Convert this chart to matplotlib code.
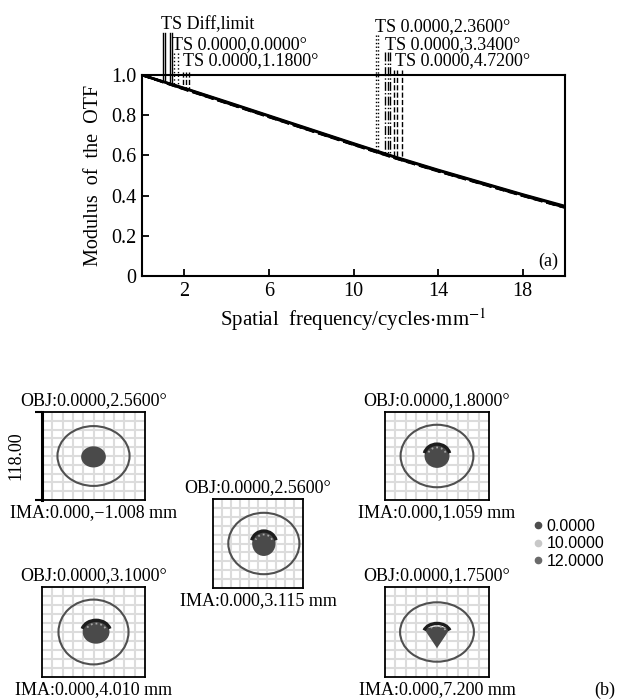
import numpy as np
import matplotlib
matplotlib.use("Agg")
import matplotlib.pyplot as plt
from matplotlib.patches import Ellipse, Arc, Wedge
from matplotlib.lines import Line2D

plt.rcParams['font.family'] = ['Liberation Serif', 'DejaVu Serif']
plt.rcParams['mathtext.fontset'] = 'stix'

# ---------------- data: MTF (a) ----------------
freq = [0, 2, 4, 6, 8, 10, 12, 14, 16, 18, 20]
mtf_diff = [1.0, 0.935, 0.867, 0.798, 0.729, 0.660, 0.592, 0.528, 0.467, 0.406, 0.348]
mtf_f0 = [1.0, 0.933, 0.864, 0.795, 0.726, 0.657, 0.589, 0.525, 0.464, 0.403, 0.344]
mtf_f1 = [1.0, 0.932, 0.863, 0.794, 0.725, 0.656, 0.588, 0.524, 0.463, 0.402, 0.343]
mtf_f2 = [1.0, 0.931, 0.862, 0.793, 0.724, 0.655, 0.587, 0.523, 0.462, 0.401, 0.342]
mtf_f3 = [1.0, 0.930, 0.861, 0.792, 0.723, 0.654, 0.586, 0.522, 0.461, 0.400, 0.341]
mtf_f4 = [1.0, 0.929, 0.860, 0.791, 0.722, 0.653, 0.585, 0.521, 0.460, 0.399, 0.340]
series_labels = ['TS Diff,limit', 'TS 0.0000,0.0000°', 'TS 0.0000,1.1800°',
                 'TS 0.0000,2.3600°', 'TS 0.0000,3.3400°', 'TS 0.0000,4.7200°']
x_ticks = [2, 6, 10, 14, 18]
y_ticks = [0, 0.2, 0.4, 0.6, 0.8, 1.0]
y_ticklabels = ['0', '0.2', '0.4', '0.6', '0.8', '1.0']

# legend marker lines (frequency positions) per entry
leg_marks = [[1.0, 1.1], [1.33, 1.43], [1.52, 1.71], [1.95, 2.1, 2.24],
             [11.05, 11.14], [11.5, 11.62, 11.72], [11.9, 12.05, 12.28]]
leg_tops = [1.209, 1.209, 1.109, 1.015, 1.199, 1.114, 1.025]
leg_styles = ['-', '-', ':', '--', ':', '-.', '--']
leg_text_x = [0.905, 1.43, 1.95, 11.0, 11.48, 11.95]
leg_text_y = [1.229, 1.129, 1.05, 1.219, 1.129, 1.05]

# ---------------- data: spot diagrams (b) ----------------
obj_labels = ['OBJ:0.0000,2.5600°', 'OBJ:0.0000,2.5600°', 'OBJ:0.0000,3.1000°',
              'OBJ:0.0000,1.8000°', 'OBJ:0.0000,1.7500°']
ima_labels = ['IMA:0.000,\u22121.008 mm', 'IMA:0.000,3.115 mm', 'IMA:0.000,4.010 mm',
              'IMA:0.000,1.059 mm', 'IMA:0.000,7.200 mm']
ring_w = [7.0, 7.9, 6.8, 7.0, 7.1]
ring_h = [6.8, 6.9, 7.2, 7.1, 6.6]
ring_dx = [0.0, 0.65, 0.0, 0.0, 0.0]
spot_w = [2.4, 2.6, 2.6, 2.4, 2.1]
spot_h = [2.4, 2.8, 2.6, 2.7, 2.4]
spot_dx = [0.0, 0.65, 0.25, 0.0, 0.0]
spot_dy = [-0.1, 0.0, 0.0, 0.0, -1.8]
cap_w = [0.0, 2.8, 2.8, 2.5, 2.6]
cap_h = [0.0, 2.8, 2.6, 2.7, 2.2]
cap_dy = [0.0, 0.0, 0.0, 0.0, -0.15]
legend_vals = ['0.0000', '10.0000', '12.0000']
legend_cols = ['#4d4d4d', '#c8c8c8', '#6a6a6a']

W, H = 618, 700
fig = plt.figure(figsize=(W / 100, H / 100), dpi=100)


def fbox(x0, y0, x1, y1):
    return [x0 / W, 1 - y1 / H, (x1 - x0) / W, (y1 - y0) / H]


# ---------------- (a) ----------------
ax = fig.add_axes(fbox(142, 75, 565, 276))
styles = ['-', '-', ':', '--', '-.', '--']
for ys, ls in zip([mtf_diff, mtf_f0, mtf_f1, mtf_f2, mtf_f3, mtf_f4], styles):
    ax.plot(freq, ys, color='black', lw=1.8, ls=ls)
ax.set_xlim(0, 20)
ax.set_ylim(0, 1.0)
ax.set_xticks(x_ticks)
ax.set_yticks(y_ticks)
ax.set_yticklabels(y_ticklabels)
ax.tick_params(direction='in', length=5, width=1.3, labelsize=14.5, pad=4)
for s in ax.spines.values():
    s.set_linewidth(1.5)
ax.set_xlabel('Spatial  frequency/cycles$\\cdot$mm$^{-1}$', fontsize=15, labelpad=4)
ax.set_ylabel('Modulus  of  the  OTF', fontsize=14.5, labelpad=6)
ax.text(0.985, 0.03, '(a)', transform=ax.transAxes, ha='right', va='bottom', fontsize=13)

for xs, top, ls in zip(leg_marks, leg_tops, leg_styles):
    for xm in xs:
        bot = np.interp(xm, freq, mtf_diff)
        ax.plot([xm, xm], [top, bot], color='black', lw=1.0, ls=ls, clip_on=False)
for lab, tx, ty in zip(series_labels, leg_text_x, leg_text_y):
    ax.text(tx, ty, lab, fontsize=13, ha='left', va='baseline', clip_on=False)

# ---------------- (b) ----------------
boxes = [(42, 412, 145, 500), (213, 499, 303, 588), (42, 587, 145, 677),
         (385, 412, 489, 500), (385, 587, 489, 677)]
for i, b in enumerate(boxes):
    sx = fig.add_axes(fbox(*b))
    sx.set_xlim(-5, 5)
    sx.set_ylim(-5, 5)
    sx.set_xticks(np.arange(-4, 5))
    sx.set_yticks(np.arange(-4, 5))
    sx.grid(True, color='#dcdcdc', lw=1.5)
    sx.set_axisbelow(True)
    sx.tick_params(length=0, labelbottom=False, labelleft=False)
    for s in sx.spines.values():
        s.set_linewidth(1.3)
    sx.add_patch(Ellipse((ring_dx[i], 0), ring_w[i], ring_h[i], fill=False, ec='#505050', lw=1.5))
    if i == 4:
        sx.add_patch(Wedge((spot_dx[i], spot_dy[i]), spot_h[i], 60, 120, color='#4a4a4a', lw=0))
    else:
        sx.add_patch(Ellipse((spot_dx[i], spot_dy[i]), spot_w[i], spot_h[i], color='#4a4a4a', lw=0))
    if cap_w[i] > 0:
        sx.add_patch(Arc((spot_dx[i], cap_dy[i]), cap_w[i], cap_h[i], theta1=15, theta2=165,
                         color='#1e1e1e', lw=2.4))
        sx.add_patch(Arc((spot_dx[i], cap_dy[i]), cap_w[i] * 0.72, cap_h[i] * 0.72, theta1=25, theta2=155,
                         color='#a8a8a8', lw=1.3, ls=':'))
    sx.text(0.5, 1.03, obj_labels[i], transform=sx.transAxes, ha='center', va='bottom', fontsize=13)
    sx.text(0.5, -0.05, ima_labels[i], transform=sx.transAxes, ha='center', va='top', fontsize=13)
    if i == 0:
        sx.spines['left'].set_linewidth(2.2)
        sx.set_yticks([-5, 5], minor=True)
        sx.tick_params(which='minor', left=True, length=5, width=1.5, direction='out')
        sx.set_ylabel('118.00', fontsize=13, labelpad=4)

handles = [Line2D([], [], ls='', marker='o', ms=4.5, color=c) for c in legend_cols]
fig.legend(handles, legend_vals, loc='upper left', bbox_to_anchor=(526 / W, 1 - 511 / H),
           frameon=False, handlelength=0.5, handletextpad=0.3, labelspacing=0.15,
           borderpad=0, prop={'family': 'Liberation Sans', 'size': 11.5})
fig.text(605 / W, 1 - 690 / H, '(b)', ha='center', va='center', fontsize=13)

fig.savefig('out.png', dpi=100)
